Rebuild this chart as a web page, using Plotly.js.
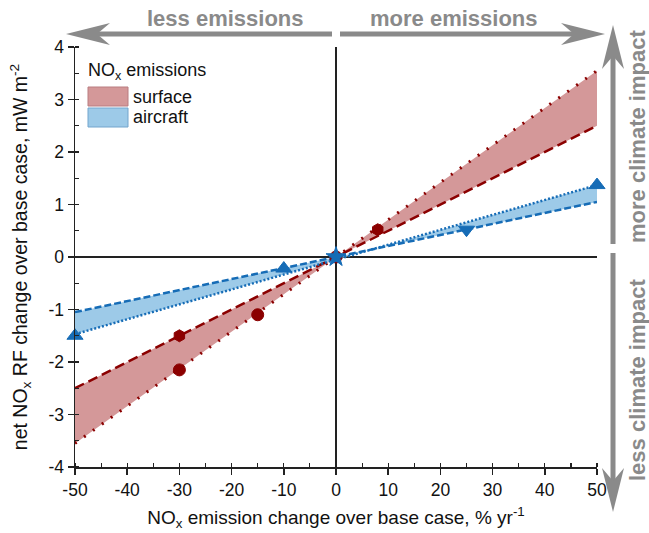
<!DOCTYPE html>
<html>
<head>
<meta charset="utf-8">
<script src="https://cdn.plot.ly/plotly-3.0.1.min.js"></script>
<style>html,body{margin:0;padding:0;background:#fff;}#chart{width:649px;height:533px;}</style>
</head>
<body>
<div id="chart"></div>
<script>
// ---- data ----
const xEnds = [-50, 50];
const surfaceDashed = [-2.5, 2.5];
const surfaceDotted = [-3.55, 3.55];
const aircraftDashed = [-1.05, 1.05];
const aircraftDotted = [-1.47, 1.37];

const surfacePtsX = [-30, -30, -15, 0, 8];
const surfacePtsY = [-1.5, -2.15, -1.1, 0, 0.52];
const surfacePtsSym = ['hexagon', 'circle', 'circle', 'circle', 'hexagon'];

const aircraftPtsX = [-50, -10, 0, 25, 50];
const aircraftPtsY = [-1.5, -0.22, 0, 0.52, 1.37];
const aircraftPtsSym = ['triangle-up', 'triangle-up', 'star', 'triangle-down', 'triangle-up'];
const aircraftPtsSize = [14, 14, 15, 14, 14];

const xTickVals = [-50, -40, -30, -20, -10, 0, 10, 20, 30, 40, 50];
const xTickText = ['-50', '-40', '-30', '-20', '-10', '0', '10', '20', '30', '40', '50'];
const yTickVals = [-4, -3, -2, -1, 0, 1, 2, 3, 4];
const yTickText = ['-4', '-3', '-2', '-1', '0', '1', '2', '3', '4'];

const legendTitle = 'NO<sub>x</sub> emissions';
const legendNames = ['surface', 'aircraft'];
const xTitle = 'NO<sub>x</sub> emission change over base case, % yr<sup>-1</sup>';
const yTitle = 'net NO<sub>x</sub> RF change over base case, mW m<sup>-2</sup>';
const topLabels = ['less emissions', 'more emissions'];
const sideLabels = ['more climate impact', 'less climate impact'];

// ---- styles ----
const RED = 'rgb(139,0,0)';
const RED_FILL = 'rgb(212,152,153)';
const BLUE = 'rgb(22,108,182)';
const BLUE_FILL = 'rgb(157,202,232)';
const GREY = 'rgb(138,138,138)';
const FONT = 'Liberation Sans, Arial, sans-serif';

// plot area in pixels
const L = 75, R = 597, T = 47, B = 467;
const px = x => (x - L) / (R - L);
const py = y => (B - y) / (B - T);

function band(xs, a, b) {
  return { x: [xs[0], xs[1], xs[1], xs[0]], y: [a[0], a[1], b[1], b[0]] };
}
const sBand = band(xEnds, surfaceDashed, surfaceDotted);
const aBand = band(xEnds, aircraftDashed, aircraftDotted);

const traces = [
  { x: sBand.x, y: sBand.y, fill: 'toself', fillcolor: RED_FILL, mode: 'none', type: 'scatter', showlegend: false, hoverinfo: 'skip' },
  { x: aBand.x, y: aBand.y, fill: 'toself', fillcolor: BLUE_FILL, mode: 'none', type: 'scatter', showlegend: false, hoverinfo: 'skip' },
  { x: xEnds, y: surfaceDashed, mode: 'lines', type: 'scatter', line: { color: RED, width: 2.5, dash: '10px,5px' }, showlegend: false },
  { x: xEnds, y: surfaceDotted, mode: 'lines', type: 'scatter', line: { color: RED, width: 3, dash: '2px,9px' }, showlegend: false },
  { x: xEnds, y: aircraftDashed, mode: 'lines', type: 'scatter', line: { color: BLUE, width: 2.5, dash: '7px,3px' }, showlegend: false },
  { x: xEnds, y: aircraftDotted, mode: 'lines', type: 'scatter', line: { color: BLUE, width: 2.5, dash: '2px,2px' }, showlegend: false },
  { x: surfacePtsX, y: surfacePtsY, mode: 'markers', type: 'scatter', cliponaxis: false,
    marker: { color: RED, opacity: 1, size: 12, symbol: surfacePtsSym, line: { color: RED, width: 1 } }, showlegend: false },
  { x: aircraftPtsX, y: aircraftPtsY, mode: 'markers', type: 'scatter', cliponaxis: false,
    marker: { color: BLUE, opacity: 1, size: aircraftPtsSize, symbol: aircraftPtsSym, line: { color: BLUE, width: 1 } }, showlegend: false }
];

// arrows
function hArrow(tipX, tailX, y, dir) {
  const len = 44, half = 11, notch = 13;
  const back = tipX - dir * len, nx = back + dir * notch;
  return [
    { type: 'line', xref: 'paper', yref: 'paper', x0: px(tailX), x1: px(nx), y0: py(y), y1: py(y), line: { color: GREY, width: 5 } },
    { type: 'path', xref: 'paper', yref: 'paper', fillcolor: GREY, line: { width: 0 },
      path: `M${px(tipX)},${py(y)} L${px(back)},${py(y - half)} L${px(nx)},${py(y)} L${px(back)},${py(y + half)} Z` }
  ];
}
function vArrow(tipY, tailY, x, dir) {
  const len = 44, half = 11, notch = 13;
  const back = tipY - dir * len, ny = back + dir * notch;
  return [
    { type: 'line', xref: 'paper', yref: 'paper', x0: px(x), x1: px(x), y0: py(tailY), y1: py(ny), line: { color: GREY, width: 5 } },
    { type: 'path', xref: 'paper', yref: 'paper', fillcolor: GREY, line: { width: 0 },
      path: `M${px(x)},${py(tipY)} L${px(x - half)},${py(back)} L${px(x)},${py(ny)} L${px(x + half)},${py(back)} Z` }
  ];
}

const shapes = [].concat(
  hArrow(66, 332, 34, -1),
  hArrow(605, 340, 34, 1),
  vArrow(25, 244, 613, -1),
  vArrow(512, 253, 613, 1),
  [
    { type: 'rect', xref: 'paper', yref: 'paper', x0: px(88), x1: px(128), y0: py(87), y1: py(106), fillcolor: RED_FILL, line: { color: 'rgb(185,125,128)', width: 1 } },
    { type: 'rect', xref: 'paper', yref: 'paper', x0: px(88), x1: px(128), y0: py(108), y1: py(127), fillcolor: BLUE_FILL, line: { color: 'rgb(115,165,205)', width: 1 } }
  ]
);

const annotations = [
  { xref: 'paper', yref: 'paper', x: px(225), y: py(18), text: topLabels[0], showarrow: false, xanchor: 'center', yanchor: 'middle', font: { family: FONT, size: 22, color: GREY, weight: 'bold' } },
  { xref: 'paper', yref: 'paper', x: px(454), y: py(18), text: topLabels[1], showarrow: false, xanchor: 'center', yanchor: 'middle', font: { family: FONT, size: 22, color: GREY, weight: 'bold' } },
  { xref: 'paper', yref: 'paper', x: px(637), y: py(137), text: sideLabels[0], showarrow: false, textangle: -90, xanchor: 'center', yanchor: 'middle', font: { family: FONT, size: 22, color: GREY, weight: 'bold' } },
  { xref: 'paper', yref: 'paper', x: px(637), y: py(380), text: sideLabels[1], showarrow: false, textangle: -90, xanchor: 'center', yanchor: 'middle', font: { family: FONT, size: 22, color: GREY, weight: 'bold' } },
  { xref: 'paper', yref: 'paper', x: px(86), y: py(71), text: legendTitle, showarrow: false, xanchor: 'left', yanchor: 'middle', font: { family: FONT, size: 18, color: '#111' } },
  { xref: 'paper', yref: 'paper', x: px(131), y: py(97), text: legendNames[0], showarrow: false, xanchor: 'left', yanchor: 'middle', font: { family: FONT, size: 18, color: '#111' } },
  { xref: 'paper', yref: 'paper', x: px(131), y: py(117), text: legendNames[1], showarrow: false, xanchor: 'left', yanchor: 'middle', font: { family: FONT, size: 18, color: '#111' } }
];

const axisCommon = {
  showgrid: false, showline: true, linecolor: '#222', linewidth: 1.5,
  zeroline: true, zerolinecolor: '#222', zerolinewidth: 1.5,
  ticks: 'outside', ticklen: 6, tickwidth: 1.5, tickcolor: '#222',
  tickfont: { family: FONT, size: 17.5, color: '#111' },
  tickmode: 'array',
  automargin: false
};

const layout = {
  width: 649, height: 533,
  margin: { l: L, r: 649 - R, t: T, b: 533 - B, pad: 0 },
  paper_bgcolor: '#fff', plot_bgcolor: '#fff',
  showlegend: false,
  xaxis: Object.assign({}, axisCommon, {
    range: [-50, 50], tickvals: xTickVals, ticktext: xTickText,
    minor: { tickmode: 'linear', tick0: -50, dtick: 5, ticks: 'inside', ticklen: 4, tickwidth: 1.2, tickcolor: '#222' },
    title: { text: xTitle, standoff: 12, font: { family: FONT, size: 19, color: '#111' } }
  }),
  yaxis: Object.assign({}, axisCommon, {
    range: [-4, 4], tickvals: yTickVals, ticktext: yTickText,
    minor: { tickmode: 'linear', tick0: -4, dtick: 0.5, ticks: 'inside', ticklen: 4, tickwidth: 1.2, tickcolor: '#222' },
    title: { text: yTitle, standoff: 15, font: { family: FONT, size: 19.5, color: '#111' } }
  }),
  shapes: shapes,
  annotations: annotations
};

Plotly.newPlot('chart', traces, layout, { displayModeBar: false, staticPlot: true });
</script>
</body>
</html>
